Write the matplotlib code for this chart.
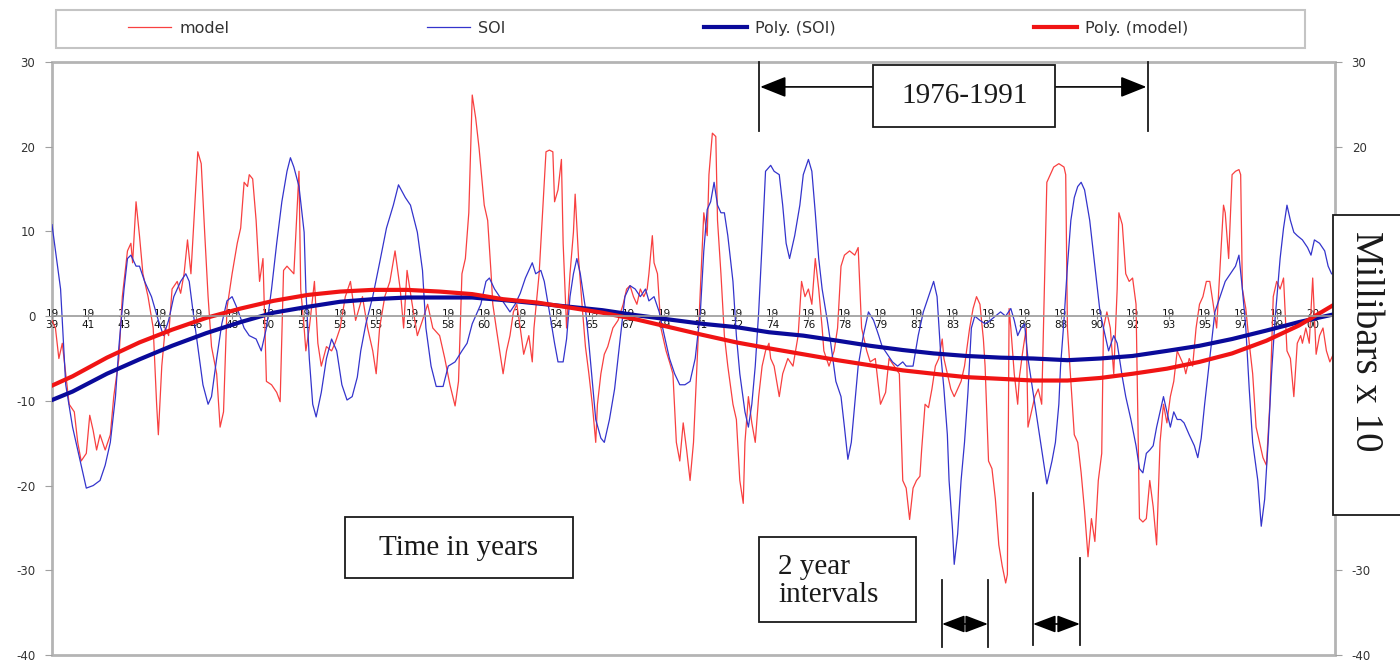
import numpy as np
import matplotlib.pyplot as plt
from matplotlib.patches import Rectangle

plt.rcParams['axes.unicode_minus'] = False

# x = months counted from the first category (mid 1939), y = millibars x 10
model_t = [0, 2, 4, 6, 8, 10, 13, 15, 17, 20, 22, 24, 26, 28, 31, 34, 36, 39, 41, 44,
           46, 47, 49, 51, 53, 56, 59, 61, 62, 64, 66, 68, 70, 73, 75, 77, 79, 81, 83, 85,
           87, 89, 91, 93, 96, 98, 100, 102, 105, 108, 110, 112, 114, 115, 117, 119, 121, 123, 125, 128,
           131, 133, 135, 137, 141, 144, 145, 147, 148, 150, 153, 155, 157, 160, 163, 165, 168, 171, 174, 177,
           181, 184, 187, 189, 191, 194, 197, 200, 203, 205, 207, 210, 213, 216, 219, 222, 226, 229, 232, 235,
           237, 239, 241, 243, 245, 247,
           249, 250, 252, 254, 256, 257, 259, 261, 263, 265, 267, 269, 271, 273, 275, 278, 280, 281, 284, 286,
           288, 290, 292, 293, 295, 297, 298, 300, 302, 304, 305, 307, 309, 311, 313, 315, 317, 318, 320, 322,
           324, 327, 330, 333, 335, 337, 339, 341, 343, 345, 347, 348, 350, 351, 353, 355, 358, 360, 362, 364,
           366, 368, 370, 372, 374, 376, 378, 380, 382, 383, 385, 387, 388, 390, 392, 394, 397, 399, 401, 403,
           404, 406, 408, 410, 412, 414, 416, 418, 419, 421, 424, 426, 429, 432, 435, 437, 439, 441, 443, 445,
           447, 449, 450, 453, 456, 458, 460, 462, 465, 468, 470, 472, 475, 477, 480, 483, 486, 488, 491, 494,
           496, 498,
           500, 502, 504, 506, 507, 509, 511, 513, 515, 517, 519, 520, 522, 524, 526, 528, 530, 532, 535, 537,
           539, 541, 543, 544, 546, 548, 550, 552, 554, 556, 557, 558, 559, 561, 563, 564, 566, 568, 569, 571,
           573, 575, 577, 580, 582, 584, 587, 590, 591, 592, 594, 596, 598, 600, 602, 604, 606, 608, 610, 612,
           613, 615, 617, 619, 621, 622, 624, 626, 628, 630, 632, 634, 636, 638, 640, 642, 644, 646, 648, 650,
           652, 654, 656, 658, 660, 661, 663, 665, 667, 669, 671, 673, 675, 677, 679, 681, 683, 684, 686, 688,
           690, 692, 693, 694, 696, 698, 700, 702, 704, 706, 708, 710, 712, 714, 716, 718, 720, 722, 724, 726,
           728, 729, 731, 733, 735, 737, 739, 741, 743, 745, 747]
model_v = [-0.5, -1.4, -5.0, -3.2, -6.8, -10.4, -11.3, -14.9, -17.1, -16.2, -11.7, -13.5, -15.8, -14.0, -15.8, -14.0, -9.5, -5.0, 2.3, 7.7,
           8.6, 6.3, 13.5, 9.5, 5.0, 2.3, -1.4, -10.4, -14.0, -5.9, -1.4, -2.3, 3.2, 4.1, 2.7, 5.0, 9.0, 5.0, 12.2, 19.4,
           18.0, 9.9, 2.3, -3.6, -6.8, -13.1, -11.3, 0.9, 5.0, 8.6, 10.4, 15.8, 15.3, 16.7, 16.2, 11.3, 4.1, 6.8, -7.7, -8.1,
           -9.0, -10.1, 5.4, 5.9, 5.0, 17.1, 3.2, -1.4, -4.1, -1.4, 4.1, -3.2, -5.9, -3.6, -4.1, -3.2, -1.4, 2.3, 4.1, -0.5,
           2.3, -1.4, -4.1, -6.8, -1.4, 2.3, 4.1, 7.7, 3.2, -1.4, 5.4, 1.4, -2.3, -0.5, 1.4, -1.4, -2.3, -5.0, -8.1, -10.6,
           -7.7, 5.0, 6.8, 12.2, 26.1, 23.4,
           19.8, 17.6, 13.1, 11.3, 5.0, 1.4, -1.4, -4.1, -6.8, -4.1, -2.3, 0.5, 1.4, -1.4, -4.5, -2.3, -5.4, -1.4, 5.0, 12.2,
           19.4, 19.6, 19.4, 13.5, 14.9, 18.5, 8.6, -1.4, 5.0, 9.9, 14.4, 6.8, 1.4, -3.6, -6.8, -10.4, -14.9, -10.4, -6.8, -4.5,
           -3.6, -1.4, -0.5, 1.4, 3.2, 3.6, 2.3, 1.4, 3.2, 2.3, 3.2, 5.0, 9.5, 6.3, 5.0, -1.4, -4.1, -5.4, -6.8, -14.9,
           -17.1, -12.6, -15.8, -19.4, -14.9, -5.9, 3.2, 12.2, 9.5, 16.7, 21.6, 21.2, 11.3, 5.0, -2.3, -5.9, -10.4, -12.2, -19.4, -22.1,
           -14.9, -9.5, -12.6, -14.9, -9.5, -5.9, -4.1, -3.2, -5.0, -5.9, -9.5, -6.8, -5.0, -5.9, -2.3, 4.1, 2.3, 3.2, 1.4, 6.8,
           3.2, -1.4, -4.1, -5.9, -4.1, -1.4, 5.9, 7.2, 7.7, 7.2, 8.1, -1.4, -4.1, -5.4, -5.0, -10.4, -9.0, -5.0, -5.9, -6.8,
           -19.4, -20.3,
           -24.0, -20.3, -19.4, -18.9, -15.8, -10.4, -10.8, -8.6, -5.9, -5.0, -2.7, -5.0, -6.8, -8.6, -9.5, -8.6, -7.7, -5.9, -1.4, 0.9,
           2.3, 1.4, -2.7, -5.9, -17.1, -18.0, -21.6, -27.0, -29.5, -31.5, -30.5, 0.9, -1.4, -6.8, -10.4, -7.2, -4.1, -1.4, -13.1, -11.3,
           -9.5, -8.6, -10.4, 15.8, 16.7, 17.6, 18.0, 17.6, 16.7, -1.4, -7.7, -14.0, -14.9, -18.5, -23.0, -28.4, -23.9, -26.6, -19.4, -16.2,
           -1.4, 0.5, -1.4, -6.8, 3.2, 12.2, 10.8, 5.0, 4.1, 4.5, 1.4, -23.9, -24.3, -23.9, -19.4, -22.5, -27.0, -14.9, -10.4, -12.6,
           -9.5, -7.7, -4.1, -5.0, -5.9, -6.8, -5.0, -5.9, -1.4, 1.4, 2.3, 4.1, 4.1, 1.4, -1.4, 5.9, 13.1, 12.2, 6.8, 16.7,
           17.1, 17.3, 16.7, 3.2, 0.9, -3.2, -6.8, -13.1, -14.9, -16.7, -17.6, -10.4, 2.3, 4.1, 3.2, 4.5, -4.1, -5.0, -9.5, -3.2,
           -2.3, -3.2, -1.4, -3.2, 4.5, -4.5, -2.3, -1.4, -4.1, -5.4, -4.5]

soi_t = [0, 5, 8, 12, 16, 20, 24, 28, 31, 34, 37, 39, 42, 44, 46, 49, 51, 54, 58, 62,
         65, 68, 71, 75, 78, 80, 82, 85, 88, 91, 93, 96, 99, 102, 105, 108, 112, 115, 119, 122,
         125, 128, 131, 134, 137, 139, 141, 144, 147, 148, 150, 152, 154, 157, 160, 163, 166, 169, 172, 175,
         178, 180, 183, 187, 191, 195, 199, 202, 206, 209, 213, 216, 218, 221, 224, 228, 231, 235, 239, 242,
         245,
         250, 253, 255, 258, 261, 264, 267, 270, 273, 276, 280, 282, 285, 287, 290, 293, 295, 298, 300, 302,
         304, 306, 308, 311, 313, 315, 317, 320, 322, 325, 328, 330, 332, 334, 337, 340, 343, 346, 348, 351,
         354, 357, 360, 363, 366, 369, 372, 375, 378, 380, 382, 384, 386, 388, 390, 392, 394, 397, 399, 401,
         404, 406, 408, 410, 412, 414, 416, 419, 421, 424, 426, 428, 430, 433, 436, 438, 441, 443, 445, 447,
         449, 452, 454, 457, 460, 462, 464, 466, 468, 470, 473, 476, 479, 482, 484, 487, 490, 493, 496,
         498, 502, 505, 508, 511, 514, 516, 518, 520, 522, 523, 525, 526, 528, 530, 532, 534, 536, 538, 541,
         544, 547, 550, 553, 556, 559, 561, 563, 565, 567, 569, 571, 573, 575, 577, 580, 583, 585, 587, 588,
         590, 592, 594, 596, 598, 600, 602, 605, 608, 611, 614, 616, 619, 621, 624, 626, 629, 632, 634, 636,
         638, 640, 642, 644, 646, 648, 650, 652, 654, 656, 658, 660, 663, 666, 668, 670, 672, 674, 676, 678,
         681, 684, 687, 690, 692, 694, 696, 698, 700, 703, 705, 707, 709, 711, 713, 716, 718, 720, 722, 724,
         726, 729, 732, 734, 736, 739, 742, 744, 746]
soi_v = [10.8, 3.2, -8.1, -13.1, -16.7, -20.3, -20.0, -19.4, -17.6, -14.9, -9.5, -3.6, 3.2, 6.8, 7.2, 5.9, 5.9, 4.1, 2.3, -0.5,
         -2.3, -0.5, 2.3, 4.1, 5.0, 4.1, 0.9, -3.6, -8.1, -10.4, -9.5, -5.0, -0.9, 1.8, 2.3, 0.9, -1.4, -2.3, -2.7, -4.1,
         -1.4, 3.2, 8.6, 13.5, 17.1, 18.7, 17.6, 15.3, 9.9, 3.2, -5.0, -10.4, -11.9, -9.0, -5.0, -2.7, -4.1, -8.1, -9.9, -9.5,
         -7.2, -4.1, -0.9, 2.3, 6.3, 10.4, 13.1, 15.5, 14.0, 13.1, 9.9, 5.4, -1.4, -5.9, -8.3, -8.3, -5.9, -5.4, -4.1, -3.2,
         -0.9,
         1.4, 4.1, 4.5, 3.2, 2.3, 1.4, 0.5, 1.4, 2.7, 4.5, 6.3, 5.0, 5.4, 4.1, 0.5, -3.2, -5.4, -5.4, -2.7, 2.3,
         5.0, 6.8, 5.0, 0.9, -3.2, -7.7, -12.2, -14.4, -14.9, -12.2, -8.6, -5.0, -1.4, 2.3, 3.6, 3.2, 2.3, 3.2, 1.8, 2.3,
         0.5, -2.3, -5.0, -6.8, -8.1, -8.1, -7.7, -5.0, 0.5, 7.7, 12.6, 13.5, 15.8, 13.1, 12.2, 12.2, 9.5, 4.1, -2.3, -6.8,
         -11.3, -13.1, -10.4, -5.9, 0.5, 8.6, 17.1, 17.8, 17.1, 16.7, 13.1, 8.6, 6.8, 9.5, 13.1, 16.7, 18.5, 17.1, 12.2, 6.8,
         3.2, -0.5, -3.2, -7.7, -9.5, -13.1, -16.9, -14.9, -10.4, -5.9, -2.3, 0.5, -0.5, -2.3, -3.6, -4.5, -5.4, -5.9, -5.4,
         -5.9, -5.9, -2.3, 0.5, 2.3, 4.1, 2.3, -4.1, -8.6, -14.0, -19.4, -25.2, -29.3, -25.7, -19.4, -14.9, -9.0, -1.4, 0.0, -0.5,
         -0.9, -0.5, 0.0, 0.5, 0.0, 0.9, -0.5, -2.3, -1.4, -0.9, -5.0, -7.7, -10.4, -13.1, -15.8, -19.8, -17.1, -14.9, -10.4, -5.9,
         -0.5, 5.9, 11.3, 14.0, 15.3, 15.8, 14.9, 11.3, 5.9, 0.5, -2.3, -4.1, -2.3, -3.2, -7.2, -9.5, -12.2, -15.3, -18.0, -18.5,
         -16.2, -15.8, -15.3, -13.1, -11.3, -9.5, -11.3, -13.1, -11.3, -12.2, -12.2, -12.6, -14.0, -15.3, -16.7, -14.4, -10.4, -6.8, -3.2, 0.5,
         2.3, 4.1, 5.0, 5.9, 7.2, 3.2, -1.4, -8.6, -14.9, -19.4, -24.8, -21.6, -14.9, -6.8, -0.5, 6.8, 10.4, 13.1, 11.3, 9.9,
         9.5, 9.0, 8.1, 7.2, 9.0, 8.6, 7.7, 5.9, 5.0]

# polynomial trend lines
poly_t = [0, 12, 32, 51, 70, 90, 110, 129, 149, 168, 187, 207, 226, 245, 263, 283, 302, 321, 341, 360,
          379, 399, 418, 438, 458, 477, 496, 514, 533, 553, 572, 592, 611, 630, 650, 669, 688, 708, 727, 747]
poly_model = [-8.2, -7.1, -4.9, -3.1, -1.6, -0.2, 0.9, 1.8, 2.5, 2.9, 3.1, 3.1, 2.9, 2.6, 2.0, 1.6, 1.0, 0.4, -0.4, -1.3,
              -2.2, -3.1, -3.8, -4.5, -5.2, -5.8, -6.4, -6.8, -7.2, -7.4, -7.6, -7.6, -7.3, -6.8, -6.2, -5.4, -4.4, -2.9, -1.1, 1.3]
poly_soi = [-9.9, -8.9, -6.8, -5.1, -3.5, -2.0, -0.7, 0.4, 1.1, 1.7, 2.0, 2.2, 2.2, 2.2, 1.9, 1.5, 1.1, 0.7, 0.1, -0.4,
            -0.9, -1.3, -1.9, -2.3, -2.9, -3.5, -4.0, -4.4, -4.7, -4.9, -5.0, -5.2, -5.0, -4.7, -4.1, -3.5, -2.7, -1.7, -0.7, 0.2]

tick_labels = ['19\n39', '19\n41', '19\n43', '19\n44', '19\n46', '19\n48', '19\n50', '19\n51', '19\n53',
               '19\n55', '19\n57', '19\n58', '19\n60', '19\n62', '19\n64', '19\n65', '19\n67', '19\n69',
               '19\n71', '19\n72', '19\n74', '19\n76', '19\n78', '19\n79', '19\n81', '19\n83', '19\n85',
               '19\n86', '19\n88', '19\n90', '19\n92', '19\n93', '19\n95', '19\n97', '19\n99', '20\n00']
tick_pos = np.arange(len(tick_labels)) * 21
y_ticks = list(range(-40, 31, 10))
# right-hand labels left visible around the unit box
right_labels = ['-40', '-30', '', '', '', '', '20', '30']

serif = 'Liberation Serif'
sans = 'DejaVu Sans'

fig = plt.figure(figsize=(14, 6.62), dpi=100)
ax = fig.add_axes([52/1400, 7/662, 1283/1400, 593/662])
ax.set_xlim(0, 748)
ax.set_ylim(-40, 30)

l1, = ax.plot(model_t, model_v, color='#f84040', lw=0.9, label='model')
l2, = ax.plot(soi_t, soi_v, color='#3434cc', lw=0.9, label='SOI')
l3, = ax.plot(poly_t, poly_soi, color='#0a0a9a', lw=3, label='Poly. (SOI)')
l4, = ax.plot(poly_t, poly_model, color='#f01414', lw=3, label='Poly. (model)')

# frame, category axis through zero
for s in ['top', 'left', 'right']:
    ax.spines[s].set_visible(False)
ax.spines['bottom'].set_position(('data', 0))
ax.spines['bottom'].set_color('#9a9a9a')
ax.spines['bottom'].set_linewidth(1.2)
ax.add_patch(Rectangle((0, 0), 1, 1, transform=ax.transAxes, fill=False,
                       ec='#b4b4b4', lw=2, clip_on=False, zorder=0.5))

ax.set_xticks(tick_pos, tick_labels, fontsize=7.5, family=sans, linespacing=1.1)
ax.tick_params(axis='x', direction='inout', length=5, color='#909090',
               pad=-7.5, labelcolor='#111111')
ax.set_yticks(y_ticks)
ax.tick_params(axis='y', direction='out', length=5, color='#a0a0a0',
               labelsize=8.5, labelcolor='#333333', pad=7)
for t in ax.get_yticklabels():
    t.set_family(sans)

ax2 = ax.twinx()
ax2.set_ylim(-40, 30)
ax2.set_yticks(y_ticks, right_labels, family=sans)
for s in ax2.spines.values():
    s.set_visible(False)
ax2.tick_params(axis='y', direction='out', length=5, color='#a0a0a0',
                labelsize=8.5, labelcolor='#333333', pad=7)

# legend across the top
fig.add_artist(Rectangle((56/1400, 1-48/662), 1249/1400, 38/662, transform=fig.transFigure,
                         fill=False, ec='#c4c4c4', lw=1.5))
leg = fig.legend([l1, l2, l3, l4], ['model', 'SOI', 'Poly. (SOI)', 'Poly. (model)'],
                 loc='center', bbox_to_anchor=(128/1400, 1-47/662, 1060/1400, 37/662),
                 mode='expand', ncol=4, frameon=False, fontsize=11.5,
                 handlelength=2.7, handletextpad=0.5, borderaxespad=0, borderpad=0)
for t in leg.get_texts():
    t.set_color('#333333')

# annotations
kw = dict(transform=ax.transAxes, color='#1a1a1a', lw=1.3, clip_on=False)
ax.plot([0.551, 0.551], [0.884, 1.0], **kw)
ax.plot([0.854, 0.854], [0.884, 1.0], **kw)
arr = dict(arrowstyle='-|>,head_length=0.8,head_width=0.32', color='black', lw=1.2,
           shrinkA=0, shrinkB=0, mutation_scale=20)
ax.annotate('', xy=(0.552, 0.958), xytext=(0.640, 0.958), xycoords='axes fraction', arrowprops=arr)
ax.annotate('', xy=(0.853, 0.958), xytext=(0.782, 0.958), xycoords='axes fraction', arrowprops=arr)
ax.add_patch(Rectangle((0.640, 0.890), 0.142, 0.105, transform=ax.transAxes,
                       fc='white', ec='#1a1a1a', lw=1.3, clip_on=False, zorder=5))
ax.text(0.711, 0.943, '1976-1991', transform=ax.transAxes, fontsize=21, family=serif,
        ha='center', va='center', color='#1a1a1a', zorder=6)

ax.add_patch(Rectangle((0.2284, 0.1298), 0.1777, 0.1029, transform=ax.transAxes,
                       fc='white', ec='#1a1a1a', lw=1.3, zorder=5))
ax.text(0.3168, 0.1800, 'Time in years', transform=ax.transAxes, fontsize=21, family=serif,
        ha='center', va='center', color='#1a1a1a', zorder=6)

ax.add_patch(Rectangle((0.551, 0.0556), 0.1224, 0.1434, transform=ax.transAxes,
                       fc='white', ec='#1a1a1a', lw=1.3, zorder=5))
ax.text(0.5659, 0.1250, '2 year\nintervals', transform=ax.transAxes, fontsize=21, family=serif,
        ha='left', va='center', linespacing=1.1, color='#1a1a1a', zorder=6)

ax.plot([0.6937, 0.6937], [0.0135, 0.1265], **kw)
ax.plot([0.7295, 0.7295], [0.0135, 0.1265], **kw)
ax.plot([0.7646, 0.7646], [0.0169, 0.2732], **kw)
ax.plot([0.8012, 0.8012], [0.0169, 0.1636], **kw)
darr = dict(arrowstyle='<|-|>,head_length=1.0,head_width=0.38', color='black', lw=1.2,
            shrinkA=0, shrinkB=0, mutation_scale=14)
ax.annotate('', xy=(0.6937, 0.0523), xytext=(0.7295, 0.0523), xycoords='axes fraction', arrowprops=darr)
ax.annotate('', xy=(0.7646, 0.0523), xytext=(0.8012, 0.0523), xycoords='axes fraction', arrowprops=darr)

# right-hand unit label box
fig.add_artist(Rectangle((1333/1400, 1-515/662), 80/1400, 300/662, transform=fig.transFigure,
                         fc='white', ec='#1a1a1a', lw=1.3, zorder=5))
fig.text(1366/1400, 1-341/662, 'Millibars x 10', rotation=270, fontsize=28, family=serif,
         ha='center', va='center', color='#1a1a1a', zorder=6)

fig.savefig('out.png', dpi=100)
